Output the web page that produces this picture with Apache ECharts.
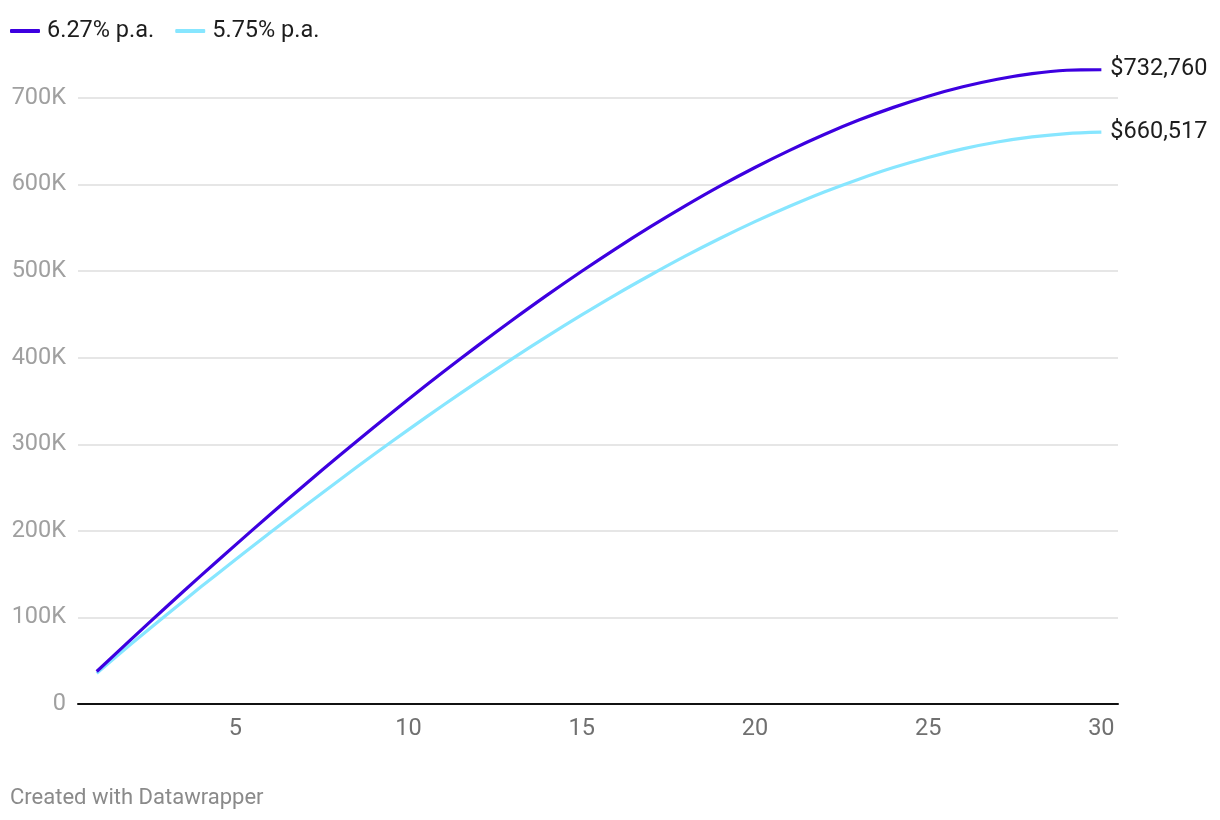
<!DOCTYPE html>
<html>
<head>
<meta charset="utf-8">
<script src="https://cdn.jsdelivr.net/npm/echarts@6/dist/echarts.min.js"></script>
<style>
html,body{margin:0;padding:0;background:#fff;}
#chart{width:1220px;height:820px;}
</style>
</head>
<body>
<div id="chart"></div>
<script>
const years = [1,2,3,4,5,6,7,8,9,10,11,12,13,14,15,16,17,18,19,20,21,22,23,24,25,26,27,28,29,30];
const seriesNames = ['6.27% p.a.', '5.75% p.a.'];
const highRate = [37500,75000,111800,148000,183500,218600,253000,286700,319700,352000,383400,413900,443500,472200,499800,526300,551600,575600,598400,619700,639500,657800,674400,689100,702000,712900,721600,728000,732000,732760];
const lowRate = [35400,69500,102500,135000,166500,197800,228300,258500,288100,316900,345100,372400,398900,424600,449400,473200,495800,517500,537900,557100,574900,591400,606200,619600,631300,641200,649100,655000,658900,660517];
const xTickLabels = [5,10,15,20,25,30];
const yTicks = [0,100000,200000,300000,400000,500000,600000,700000];

const colors = ['#3d00e0', '#87e6ff'];
const chart = echarts.init(document.getElementById('chart'));
const FONT = 'Roboto, "Noto Sans", sans-serif';

function fmtMoney(v){
  return '$' + Math.round(v).toString().replace(/\B(?=(\d{3})+(?!\d))/g, ',');
}

const series = [highRate, lowRate].map((vals, i) => ({
  name: seriesNames[i],
  type: 'line',
  data: years.map((y, j) => [y, vals[j]]),
  smooth: 0.3,
  showSymbol: false,
  symbol: 'none',
  lineStyle: { color: colors[i], width: 3.2 },
  itemStyle: { color: colors[i] },
  z: 3 - i,
  endLabel: {
    show: true,
    formatter: p => fmtMoney(p.value[1]),
    color: '#1d1d1d',
    fontSize: 23.5,
    fontFamily: FONT,
    distance: 9
  }
}));

chart.setOption({
  animation: false,
  textStyle: { fontFamily: FONT },
  title: {
    text: 'Created with Datawrapper',
    left: 5,
    top: 782,
    textStyle: { fontSize: 22, fontWeight: 'normal', color: '#8a8a8a', fontFamily: FONT }
  },
  legend: {
    left: 5,
    top: 14,
    itemWidth: 30,
    itemHeight: 4,
    itemGap: 21,
    icon: 'roundRect',
    textStyle: { fontSize: 23.5, color: '#1d1d1d', fontFamily: FONT, padding: [0,0,0,2] },
    data: seriesNames
  },
  grid: { left: 78, right: 102, top: 46, bottom: 116, containLabel: false },
  xAxis: {
    type: 'value',
    min: 0.46,
    max: 30.48,
    splitLine: { show: false },
    axisTick: { show: false },
    axisLine: { show: true, onZero: true, lineStyle: { color: '#111', width: 2 } },
    axisLabel: {
      customValues: xTickLabels,
      color: '#707070',
      fontSize: 23.5,
      fontFamily: FONT,
      margin: 13
    }
  },
  yAxis: {
    type: 'value',
    min: 0,
    max: 760000,
    interval: 100000,
    axisLine: { show: false },
    axisTick: { show: false },
    splitLine: { show: true, showMaxLine: false, showMinLine: false, lineStyle: { color: '#e6e6e6', width: 2 } },
    axisLabel: {
      showMaxLabel: false,
      color: '#a0a0a0',
      fontSize: 23.5,
      fontFamily: FONT,
      margin: 12,
      formatter: v => yTicks.indexOf(v) < 0 ? '' : (v === 0 ? '0' : (v / 1000) + 'K')
    }
  },
  series: series
});
</script>
</body>
</html>
